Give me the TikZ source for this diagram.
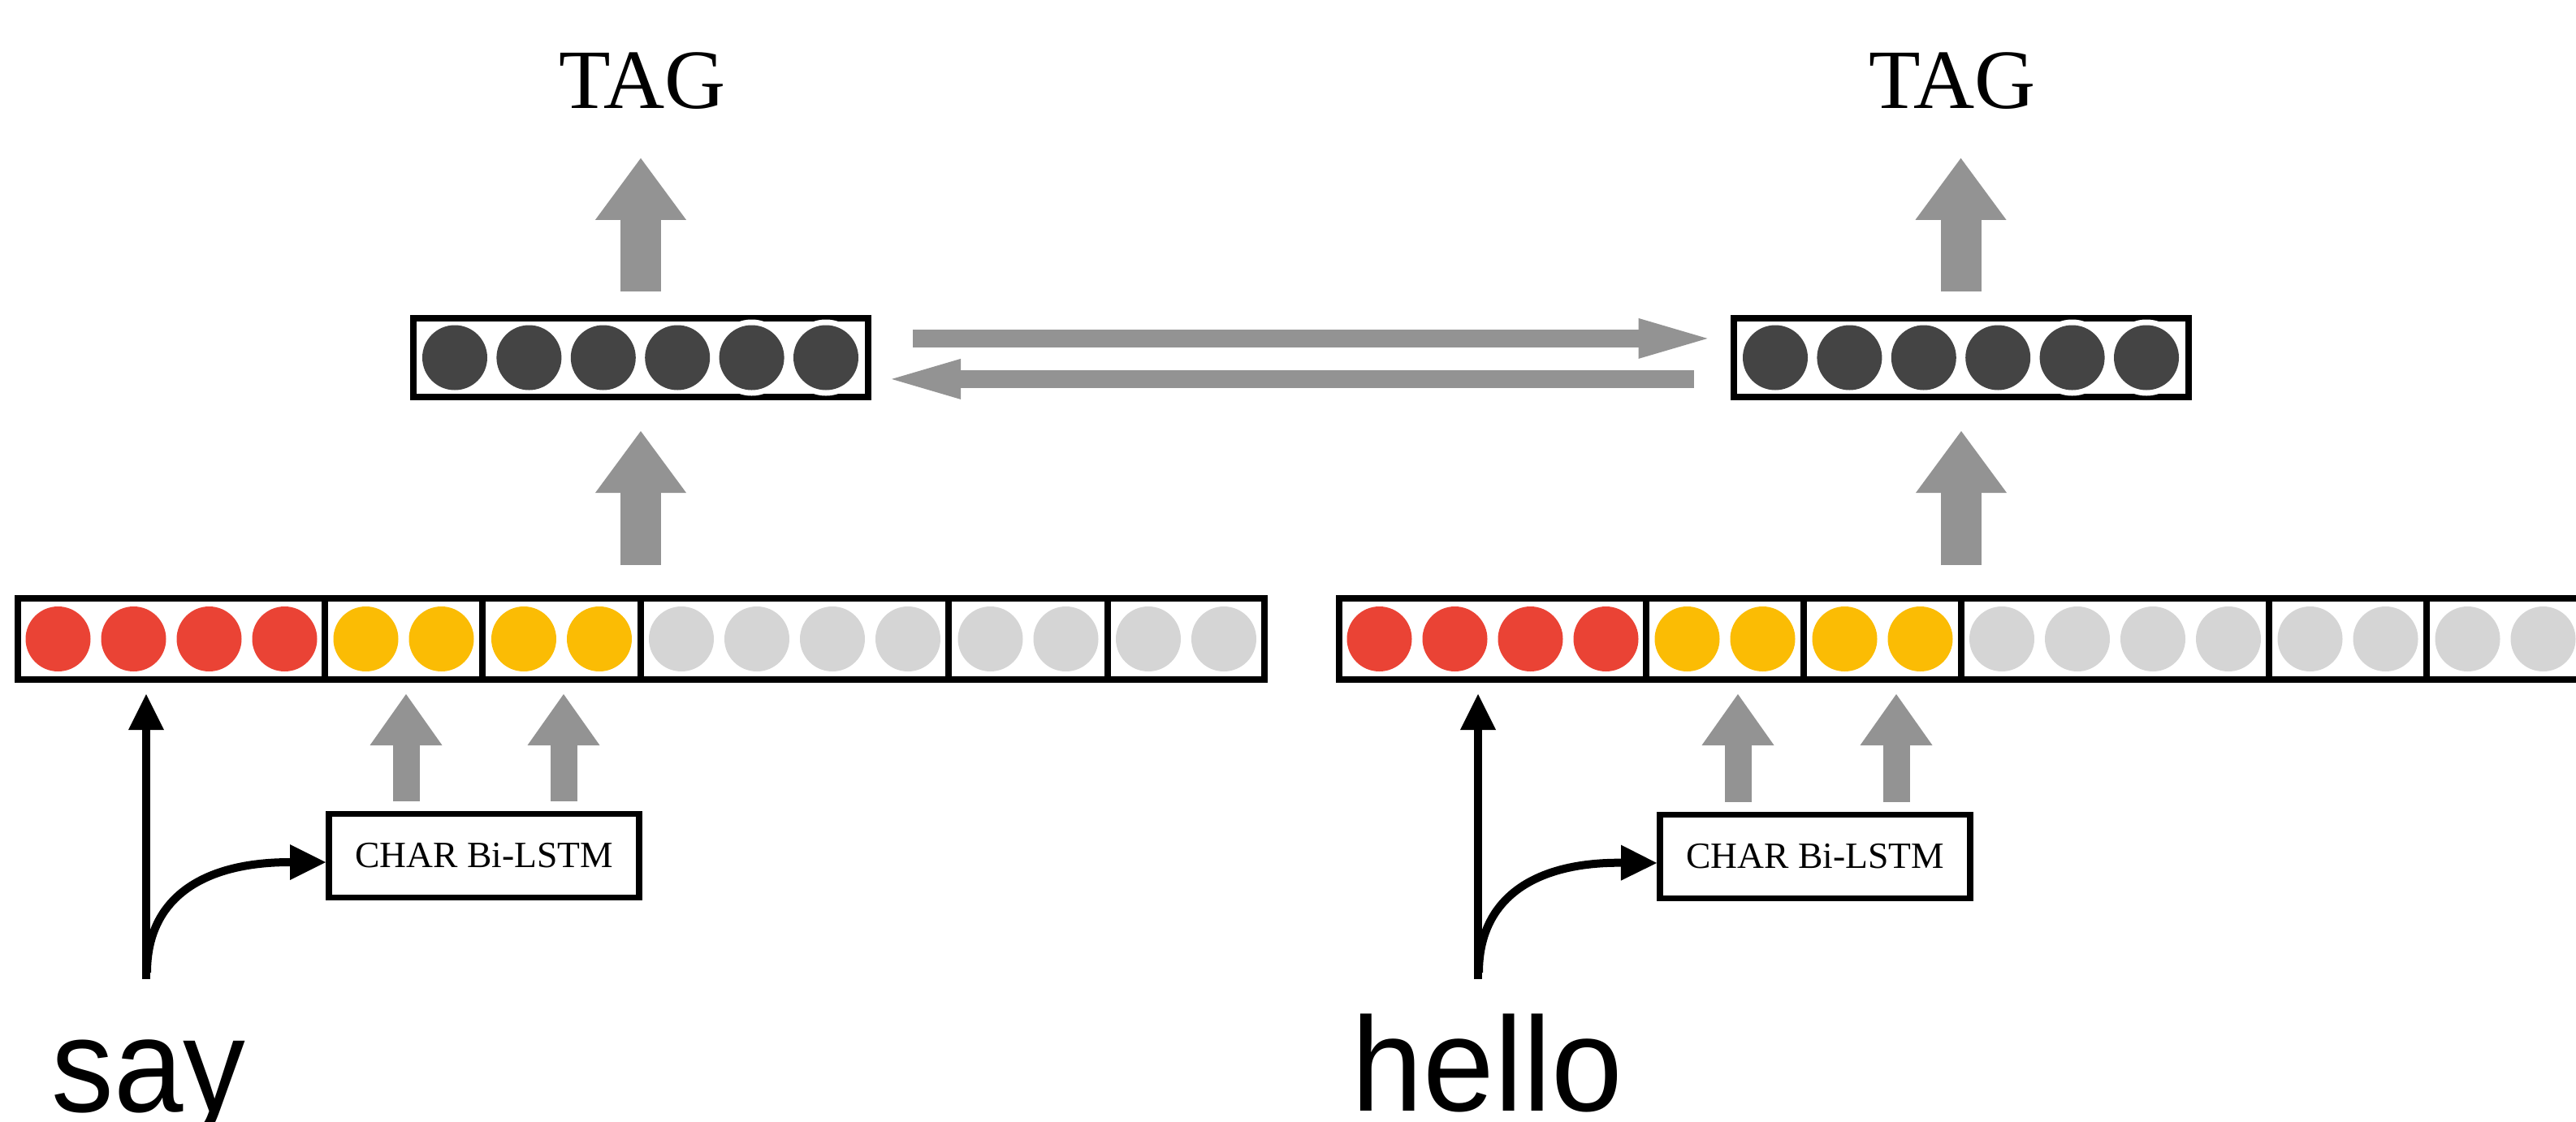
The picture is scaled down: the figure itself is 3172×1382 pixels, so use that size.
\documentclass[tikz,border=0pt]{standalone}
\usepackage{fontspec}
\setmainfont{Liberation Serif}
\newfontfamily\wordfont{Liberation Sans}
\usetikzlibrary{arrows.meta,calc}
\definecolor{gred}{HTML}{EA4335}
\definecolor{gyel}{HTML}{FBBC04}
\definecolor{lgray}{HTML}{D5D5D5}
\definecolor{dgray}{HTML}{444444}
\definecolor{agray}{HTML}{939393}
\begin{document}
\begin{tikzpicture}[x=0.25pt,y=-0.25pt,
  cell/.style={draw=black, line width=2pt, minimum height=25pt, inner sep=0pt, outer sep=0pt},
  hidbox/.style={draw=black, line width=2pt, minimum width=140pt, minimum height=24.25pt, inner sep=0pt, outer sep=0pt},
  charbox/.style={draw=black, line width=1.9pt, minimum width=95.5pt, minimum height=25.75pt, inner sep=0pt, outer sep=0pt, font=\fontsize{11.4pt}{12pt}\selectfont},
  dot/.style={circle, inner sep=0pt, minimum size=20pt, draw=none},
  halo/.style={circle, inner sep=0pt, minimum size=21.75pt, draw=white, line width=1.75pt},
  tag/.style={inner sep=0pt, anchor=base, font=\fontsize{26pt}{26pt}\selectfont},
  word/.style={inner sep=0pt, anchor=base west, font=\wordfont\fontsize{41.25pt}{41.25pt}\selectfont},
  garrowS/.style={draw=agray, line width=8.25pt, -{Triangle[length=15.75pt, width=22.25pt, line width=0pt]}},
  garrowB/.style={draw=agray, line width=12.5pt, -{Triangle[length=19pt, width=28pt, line width=0pt]}},
  garrowH/.style={draw=agray, line width=5.5pt, -{Triangle[length=21.25pt, width=12.5pt, line width=0pt]}},
  blk/.style={draw=black, line width=2.5pt, -{Triangle[length=11pt, width=11pt, line width=0pt]}}]
\useasboundingbox (0,0) rectangle (3172,1382);
\clip (0,0) rectangle (3172,1382);

% ---------- embedding bars ----------
\foreach \sx/\sw/\n/\c/\nm in {22/378/4/gred/La, 400/194/2/gyel/Lb, 594/195/2/gyel/Lc, 789/379/4/lgray/Ld, 1168/196/2/lgray/Le, 1364/193/2/lgray/Lf,
  1649/378/4/gred/Ra, 2027/194/2/gyel/Rb, 2221/194/2/gyel/Rc, 2415/379/4/lgray/Rd, 2794/194/2/lgray/Re, 2988/194/2/lgray/Rf}{
  \node[cell, minimum width=\sw*0.25pt] (\nm) at ({\sx+\sw/2},787) {};
  \foreach \i in {1,...,\n}
    \node[dot, fill=\c] (\nm\i) at ({\sx+(\sw-(\n-1)*93)/2+93*(\i-1)},787) {};
}

% ---------- hidden boxes ----------
\node[hidbox] (hidL) at (789,440.5) {};
\node[hidbox] (hidR) at (2414.5,440.5) {};
\foreach \i in {5,6}{
  \node[halo] at ({560+91.4*(\i-1)},440.5) {};
  \node[halo] at ({2186+91.4*(\i-1)},440.5) {};
}
\foreach \i in {1,...,6}{
  \node[dot, fill=dgray] (hL\i) at ({560+91.4*(\i-1)},440.5) {};
  \node[dot, fill=dgray] (hR\i) at ({2186+91.4*(\i-1)},440.5) {};
}

% ---------- TAG labels ----------
\node[tag] (tagL) at (791,133) {TAG};
\node[tag] (tagR) at (2404,133) {TAG};

% ---------- CHAR boxes ----------
\node[charbox] (charL) at (596,1054) {CHAR Bi-LSTM};
\node[charbox] (charR) at (2235,1055) {CHAR Bi-LSTM};

% ---------- words ----------
\node[word] (say) at (63,1369) {\scalebox{0.93}[1]{say}};
\node[word] (hello) at (1664,1368) {\scalebox{0.955}[1]{hello}};
\coordinate (wL) at (180,1206);
\coordinate (wR) at (1820,1206);

% ---------- arrows ----------
\draw[garrowB, shorten <=8.25pt, shorten >=15pt] (hidL.north) -- (hidL.north |- tagL.south);
\draw[garrowB, shorten <=8.25pt, shorten >=15pt] (hidR.north) -- (hidR.north |- tagR.south);
\draw[garrowB, shorten <=10.25pt, shorten >=10.5pt] (Lc.north east) -- (Lc.north east |- hidL.south);
\draw[garrowB, shorten <=10.25pt, shorten >=10.5pt] (Rc.north east) -- (Rc.north east |- hidR.south);

\draw[garrowH, shorten <=13.75pt, shorten >=8pt] ([yshift=5.9pt]hidL.east) -- ([yshift=5.9pt]hidR.west);
\draw[garrowH, shorten <=12.25pt, shorten >=7.25pt] ([yshift=-6.6pt]hidR.west) -- ([yshift=-6.6pt]hidL.east);

\draw[garrowS, shorten <=4pt, shorten >=4.5pt] ([xshift=-24pt]charL.north) -- ([xshift=-24pt]charL.north |- Lb.south);
\draw[garrowS, shorten <=4pt, shorten >=4.5pt] ([xshift=24.5pt]charL.north) -- ([xshift=24.5pt]charL.north |- Lc.south);
\draw[garrowS, shorten <=4pt, shorten >=4.5pt] ([xshift=-23.75pt]charR.north) -- ([xshift=-23.75pt]charR.north |- Rb.south);
\draw[garrowS, shorten <=4pt, shorten >=4.5pt] ([xshift=25pt]charR.north) -- ([xshift=25pt]charR.north |- Rc.south);

\draw[blk, shorten >=4.5pt] (wL) -- (wL |- La.south);
\draw[blk, shorten >=4.5pt] (wR) -- (wR |- Ra.south);
\draw[blk, shorten >=1pt] ($(wL)+(1,-8)$) .. controls ($(wL)+(1,-100)$) and ($(wL)+(70,-144)$) .. ([yshift=-2pt]charL.west);
\draw[blk, shorten >=1pt] ($(wR)+(1,-8)$) .. controls ($(wR)+(1,-100)$) and ($(wR)+(70,-144)$) .. ([yshift=-2pt]charR.west);
\end{tikzpicture}
\end{document}
